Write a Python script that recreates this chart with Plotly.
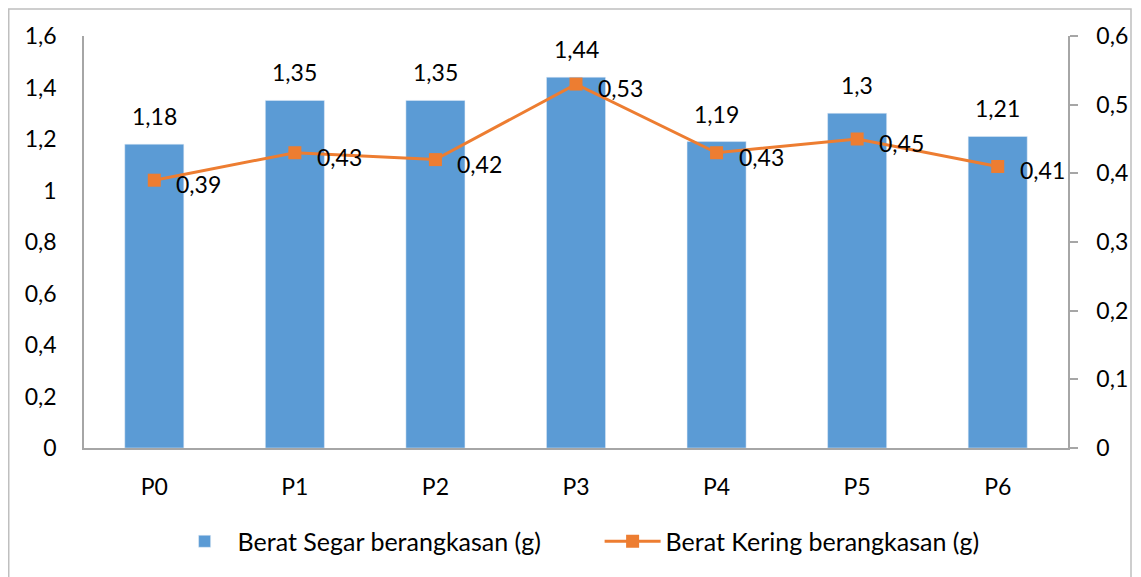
import plotly.graph_objects as go

categories = ["P0", "P1", "P2", "P3", "P4", "P5", "P6"]
segar = [1.18, 1.35, 1.35, 1.44, 1.19, 1.3, 1.21]
kering = [0.39, 0.43, 0.42, 0.53, 0.43, 0.45, 0.41]
name_segar = "Berat Segar berangkasan (g)"
name_kering = "Berat Kering berangkasan (g)"

FONT = "Lato, 'Liberation Sans', sans-serif"
FS = 23
BLUE = "#5B9BD5"
ORANGE = "#ED7D31"
AXIS = "#A6A6A6"

def fmt(v):
    return str(v).replace(".", ",")

fig = go.Figure()
fig.add_trace(go.Bar(x=categories, y=segar, name=name_segar, marker_color=BLUE,
                     yaxis="y", hoverinfo="skip"))
fig.add_trace(go.Scatter(x=categories, y=kering, name=name_kering, mode="lines+markers",
                         line=dict(color=ORANGE, width=3),
                         marker=dict(symbol="square", size=13, color=ORANGE),
                         yaxis="y2", hoverinfo="skip"))

annotations = []
for c, v in zip(categories, segar):
    annotations.append(dict(x=c, y=v, xref="x", yref="y", text=fmt(v), showarrow=False,
                            yanchor="bottom", yshift=12, font=dict(family=FONT, size=FS, color="#000")))
for c, v in zip(categories, kering):
    annotations.append(dict(x=c, y=v, xref="x", yref="y2", text=fmt(v), showarrow=False,
                            xanchor="left", yanchor="middle", xshift=20, yshift=-4,
                            font=dict(family=FONT, size=FS, color="#000")))

# page body has an 8px margin, so the figure is sized to fill the rest of the window
FW, FH = 1133, 569
L, T = 76, 28
H = 414.0
W = 984.0
R = FW - L - int(W)
B = FH - T - int(H)
fig.update_layout(
    width=FW, height=FH,
    margin=dict(l=L, r=R, t=T, b=B, pad=0),
    paper_bgcolor="white", plot_bgcolor="white",
    font=dict(family=FONT, size=FS, color="#000"),
    separators=",.",
    bargap=0.58,
    showlegend=True,
    legend=dict(orientation="h", x=0.524, xanchor="center", y=-0.227, yanchor="middle",
                font=dict(family=FONT, size=25), itemwidth=56, tracegroupgap=0,
                entrywidth=357, entrywidthmode="pixels"),
    xaxis=dict(showline=True, linecolor=AXIS, linewidth=1.5, showgrid=False, ticks="",
               ticklabelstandoff=18, zeroline=False, fixedrange=True),
    yaxis=dict(range=[0, 1.6], dtick=0.2, showline=True, linecolor=AXIS, linewidth=1.5,
               showgrid=False, zeroline=False, ticks="", ticklabelstandoff=21),
    yaxis2=dict(range=[0, 0.6], dtick=0.1, overlaying="y", side="right", showline=True,
                linecolor=AXIS, linewidth=1.5, showgrid=False, zeroline=False,
                ticks="outside", ticklen=8, tickcolor=AXIS, tickwidth=1.5, ticklabelstandoff=14),
    annotations=annotations,
    shapes=[dict(type="rect", xref="paper", yref="paper",
                 x0=(0.75 - L) / W, x1=(1123 - L) / W,
                 y0=(T + H - 590) / H, y1=(T + H - 0.75) / H,
                 line=dict(color="#BFBFBF", width=1.5), fillcolor="rgba(0,0,0,0)", layer="below")],
)

fig.write_html("out.html")
